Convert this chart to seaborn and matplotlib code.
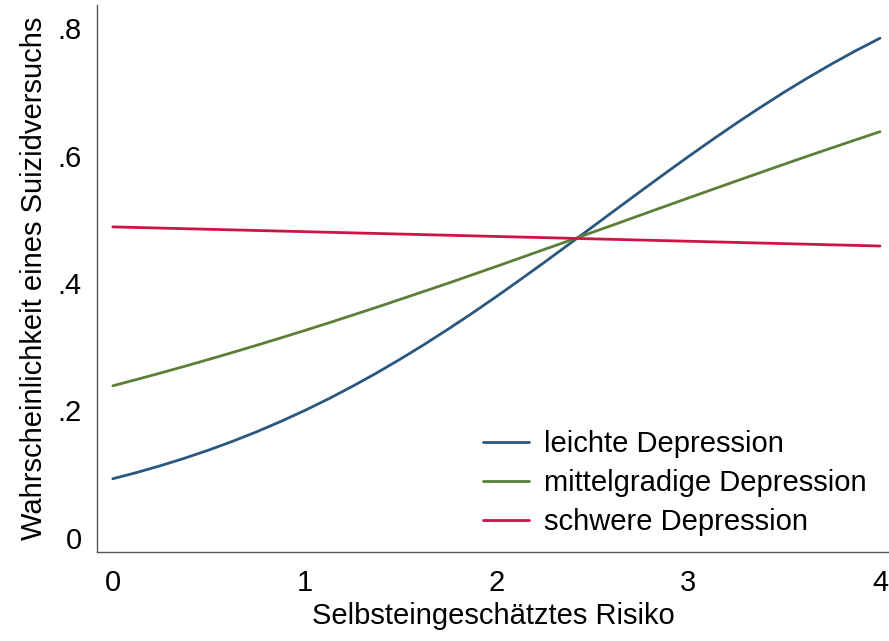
import numpy as np
import pandas as pd
import matplotlib
matplotlib.use("Agg")
import matplotlib.pyplot as plt
import seaborn as sns

risk = [0.0, 0.125, 0.25, 0.375, 0.5, 0.625, 0.75, 0.875, 1.0, 1.125, 1.25, 1.375, 1.5, 1.625,
        1.75, 1.875, 2.0, 2.125, 2.25, 2.375, 2.5, 2.625, 2.75, 2.875, 3.0, 3.125, 3.25,
        3.375, 3.5, 3.625, 3.75, 3.875, 4.0]
leicht = [0.0928, 0.1026, 0.1134, 0.1251, 0.1378, 0.1516, 0.1665, 0.1826, 0.1998, 0.2182,
          0.2379, 0.2587, 0.2807, 0.3037, 0.3279, 0.3528, 0.3787, 0.4053, 0.4324, 0.4600,
          0.4878, 0.5157, 0.5435, 0.5710, 0.5981, 0.6246, 0.6504, 0.6753, 0.6993, 0.7222,
          0.7440, 0.7647, 0.7841]
mittel = [0.2387, 0.2486, 0.2588, 0.2693, 0.2800, 0.2910, 0.3022, 0.3137, 0.3254, 0.3373,
          0.3495, 0.3618, 0.3744, 0.3871, 0.3998, 0.4129, 0.4260, 0.4393, 0.4527, 0.4659,
          0.4794, 0.4928, 0.5063, 0.5198, 0.5332, 0.5466, 0.5599, 0.5731, 0.5863, 0.5993,
          0.6121, 0.6248, 0.6374]
risk_schwer = [0.0, 1.0, 2.0, 3.0, 4.0]
schwer = [0.4880, 0.4805, 0.4730, 0.4655, 0.4580]
labels = ["leichte Depression", "mittelgradige Depression", "schwere Depression"]
yticks = [0, 0.2, 0.4, 0.6, 0.8]
yticklabels = ["0", ".2", ".4", ".6", ".8"]
xticks = [0, 1, 2, 3, 4]

df = pd.DataFrame({
    "x": risk + risk + risk_schwer,
    "y": leicht + mittel + schwer,
    "g": [labels[0]] * len(risk) + [labels[1]] * len(risk) + [labels[2]] * len(risk_schwer),
})

sns.set_theme(style="white")
plt.rcParams["font.family"] = ["Liberation Sans", "DejaVu Sans"]
plt.rcParams["text.color"] = "black"
plt.rcParams["axes.labelcolor"] = "black"
plt.rcParams["xtick.color"] = "black"
plt.rcParams["ytick.color"] = "black"

FS = 21
fig = plt.figure(figsize=(8.89, 6.41), dpi=100)
ax = fig.add_axes([0.109, 0.139, 0.891, 0.853])
palette = {labels[0]: "#2a5780", labels[1]: "#5b7f35", labels[2]: "#cc1447"}
sns.lineplot(data=df, x="x", y="y", hue="g", hue_order=labels, palette=palette,
             linewidth=2.0, ax=ax)

ax.set_xlim(-0.083, 4.047)
ax.set_ylim(-0.022, 0.836)
ax.set_xticks(xticks)
ax.set_xticklabels([str(v) for v in xticks], fontsize=FS)
ax.set_yticks(yticks)
ax.set_yticklabels(yticklabels, fontsize=FS)
ax.tick_params(axis="x", length=0, pad=12)
ax.tick_params(axis="y", length=0, pad=11)
ax.set_xlabel("Selbsteingeschätztes Risiko", fontsize=FS, labelpad=4)
ax.set_ylabel("Wahrscheinlichkeit eines Suizidversuchs", fontsize=FS, labelpad=7)
for s in ["top", "right"]:
    ax.spines[s].set_visible(False)
for s in ["left", "bottom"]:
    ax.spines[s].set_color("#555555")
    ax.spines[s].set_linewidth(1.0)

leg = ax.legend(loc="lower right", frameon=False, fontsize=FS, handlelength=1.6,
                handletextpad=0.5, bbox_to_anchor=(0.99, 0.002), borderpad=0,
                labelspacing=0.38)
for line in leg.get_lines():
    line.set_linewidth(2.0)

fig.savefig("out.png", dpi=100)
